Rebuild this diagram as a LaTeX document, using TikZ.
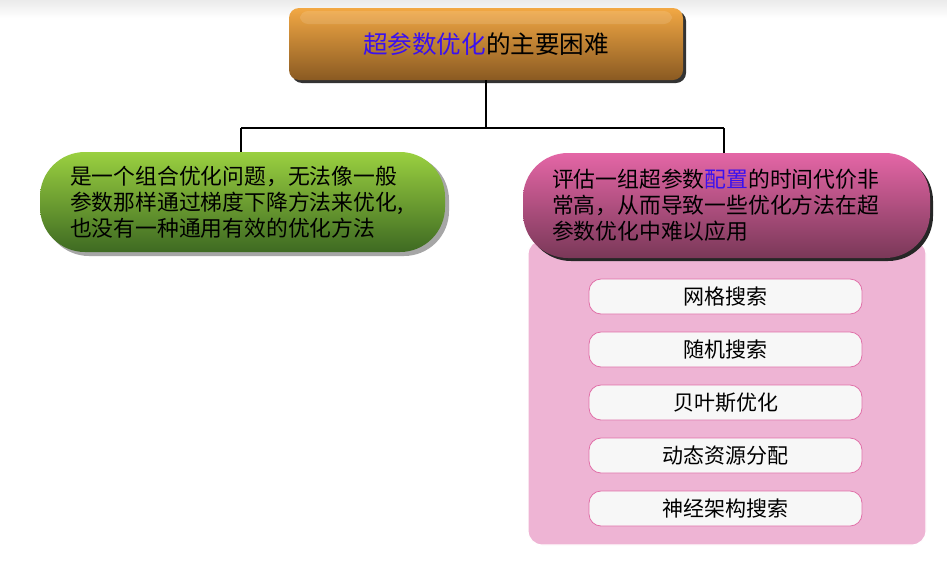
\documentclass[tikz,border=0pt]{standalone}
\usepackage{fontspec}
\setmainfont{Noto Sans CJK SC}
\usetikzlibrary{shadows}
\definecolor{hiblue}{HTML}{3A10F0}
\definecolor{orgtop}{HTML}{F2A844}
\definecolor{orgbot}{HTML}{8A5A22}
\definecolor{grntop}{HTML}{9AD040}
\definecolor{grnbot}{HTML}{3E6A22}
\definecolor{pnktop}{HTML}{E466A6}
\definecolor{pnkbot}{HTML}{7A3858}
\definecolor{panelfill}{HTML}{EEB4D4}
\definecolor{itemedge}{HTML}{E070A8}
\tikzset{
  topbox/.style={rounded corners=10pt, minimum width=394pt, minimum height=72pt,
    top color=orgtop, bottom color=orgbot, draw=none,
    font=\fontsize{24.6}{28}\selectfont},
  bigbox/.style={rounded corners=45pt, draw=none, align=left, inner ysep=0pt,
    font=\fontsize{21.8}{26}\selectfont},
  panelbox/.style={rounded corners=14pt, fill=panelfill, draw=white, line width=1.2pt,
    minimum width=398pt, minimum height=305pt},
  itembox/.style={rounded corners=12pt, fill=white!97!black, draw=itemedge, line width=0.8pt,
    minimum width=273pt, minimum height=35pt, font=\fontsize{21}{24}\selectfont},
  conn/.style={draw=black, line width=1.8pt}
}
\begin{document}
\begin{tikzpicture}[x=1pt,y=-1pt]
\useasboundingbox (0,0) rectangle (947,560);
\fill[white] (0,0) rectangle (947,560);
\shade[top color=black!8, bottom color=white] (0,0) rectangle (947,18);

% connectors
\coordinate (hub) at (486,128);
\coordinate (hl) at (241,128);
\coordinate (hr) at (724,128);

% panel
\node[panelbox] (panel) at (727,392.5) {};

% top box
\fill[black!80, rounded corners=10pt] (292,11) rectangle (686,83);
\node[topbox] (top) at (486,44) {{\color{hiblue}超参数优化}的主要困难};

\draw[conn] (top.south) -- (hub);
\draw[conn] (hl) -- (hr);

% left box
\fill[black!35, rounded corners=45pt] (44,155) rectangle (449,256);
\node[bigbox, top color=grntop, bottom color=grnbot, text width=345pt, inner xsep=30pt,
  minimum height=100pt] (left) at (242.5,202) {是一个组合优化问题，无法像一般\\参数那样通过梯度下降方法来优化,\\也没有一种通用有效的优化方法};

% right box
\fill[black!85, rounded corners=45pt] (526,156) rectangle (933,261);
\node[bigbox, top color=pnktop, bottom color=pnkbot, text width=349pt, inner xsep=29pt,
  minimum height=105pt] (right) at (726.5,205.5) {评估一组超参数{\color{hiblue}配置}的时间代价非\\常高，从而导致一些优化方法在超\\参数优化中难以应用};

\draw[conn] (hl) -- (left.north -| hl);
\draw[conn] (hr) -- (right.north -| hr);

% glossy highlight
\fill[white, opacity=0.12, rounded corners=8pt] (300,11) rectangle (672,24);

% items
\node[itembox] (i1) at (725.5,296.5) {网格搜索};
\node[itembox] (i2) at (725.5,349.5) {随机搜索};
\node[itembox] (i3) at (725.5,402.5) {贝叶斯优化};
\node[itembox] (i4) at (725.5,455.5) {动态资源分配};
\node[itembox] (i5) at (725.5,508.5) {神经架构搜索};
\end{tikzpicture}
\end{document}
